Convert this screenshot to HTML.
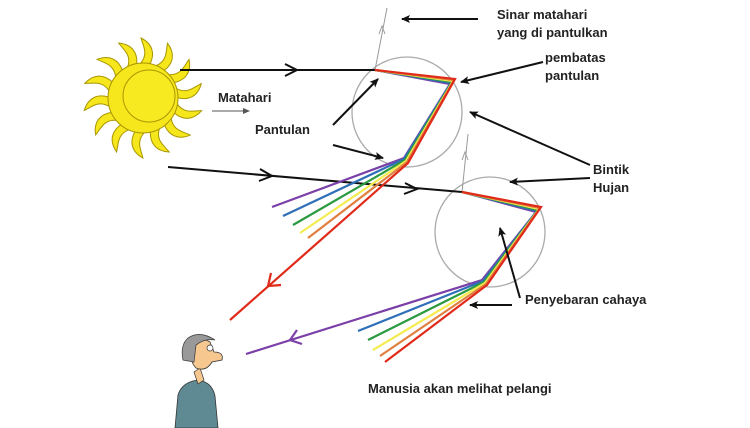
<!DOCTYPE html>
<html><head><meta charset="utf-8"><style>
html,body{margin:0;padding:0;background:#fff;}
svg{display:block}
text{font-family:"Liberation Sans",sans-serif;font-weight:bold;font-size:13px;fill:#222}
</style></head><body>
<svg width="750" height="428" viewBox="0 0 750 428" xmlns="http://www.w3.org/2000/svg">
<defs>
<marker id="ah" markerWidth="10" markerHeight="10" refX="8" refY="5" orient="auto" markerUnits="userSpaceOnUse"><path d="M0,1 L9,5 L0,9 L2,5Z" fill="#111"/></marker>
<path id="ray" d="M-3,-34 C6,-44 0,-52 -2,-60 C10,-54 12,-44 7,-34Z" fill="#f6e61c" stroke="#a89600" stroke-width="1"/>
</defs>
<!-- sun -->
<g transform="translate(143,98)">
<use href="#ray" transform="rotate(0)"/><use href="#ray" transform="rotate(26)"/><use href="#ray" transform="rotate(52)"/><use href="#ray" transform="rotate(78)"/><use href="#ray" transform="rotate(104)"/><use href="#ray" transform="rotate(130)"/><use href="#ray" transform="rotate(156)"/><use href="#ray" transform="rotate(182)"/><use href="#ray" transform="rotate(208)"/><use href="#ray" transform="rotate(234)"/><use href="#ray" transform="rotate(260)"/><use href="#ray" transform="rotate(286)"/><use href="#ray" transform="rotate(312)"/><use href="#ray" transform="rotate(338)"/>
<circle r="35" fill="#f6e61c" stroke="#a89600" stroke-width="1"/>
<circle cx="6" cy="-2" r="26" fill="#f8ea20" stroke="#a89600" stroke-width="1"/>
</g>
<!-- circles -->
<circle cx="407" cy="112" r="55" fill="none" stroke="#aaa" stroke-width="1.3"/>
<circle cx="490" cy="232" r="55" fill="none" stroke="#aaa" stroke-width="1.3"/>
<!-- grey reflected lines -->
<line x1="375" y1="70" x2="387" y2="8" stroke="#999" stroke-width="1"/>
<path d="M379,34 L382,26 L385,34" fill="none" stroke="#999"/>
<line x1="462" y1="192" x2="468" y2="134" stroke="#999" stroke-width="1"/>
<path d="M462,160 L465,152 L468,160" fill="none" stroke="#999"/>
<!-- incoming rays -->
<line x1="180" y1="70" x2="375" y2="70" stroke="#111" stroke-width="2"/>
<path d="M285,64 L297,70 L285,76" fill="none" stroke="#111" stroke-width="2"/>
<line x1="168" y1="167" x2="462" y2="192" stroke="#111" stroke-width="2"/>
<path d="M260,169 L272,176 L259,181" fill="none" stroke="#111" stroke-width="2"/>
<path d="M405,183 L417,189 L404,194" fill="none" stroke="#111" stroke-width="2"/>
<!-- drop 1 rainbow -->
<g fill="none" stroke-width="2.2">
<polyline points="375,70 450,84 404,158 272,207" stroke="#7b3fa8"/>
<polyline points="375,70 451,83 404,159 283,216" stroke="#2f6fb8"/>
<polyline points="375,70 452,82 405,160 293,225" stroke="#2a9a40"/>
<polyline points="375,70 453,81 406,161 300,233" stroke="#f4ec50"/>
<polyline points="375,70 454,80 407,162 308,238" stroke="#e08040"/>
<polyline points="375,70 455,79 408,163 230,320" stroke="#e02a1a"/>
<path d="M271,273 L268,286 L281,285" stroke="#e02a1a"/>
</g>
<!-- drop 2 rainbow -->
<g fill="none" stroke-width="2.2">
<polyline points="462,192 536,212 482,280 246,354" stroke="#7b3fa8"/>
<polyline points="462,192 537,211 483,281 358,331" stroke="#2f6fb8"/>
<polyline points="462,192 538,210 484,282 368,340" stroke="#2a9a40"/>
<polyline points="462,192 539,209 485,283 373,350" stroke="#f4ec50"/>
<polyline points="462,192 540,208 486,284 380,356" stroke="#e08040"/>
<polyline points="462,192 541,207 487,285 385,362" stroke="#e02a1a"/>
<path d="M297,330 L290,340 L302,344" stroke="#7b3fa8"/>
</g>
<!-- label arrows -->
<g stroke="#111" stroke-width="2" marker-end="url(#ah)">
<line x1="478" y1="19" x2="402" y2="19"/>
<line x1="543" y1="62" x2="461" y2="82"/>
<line x1="333" y1="125" x2="378" y2="79"/>
<line x1="333" y1="145" x2="383" y2="158"/>
<line x1="590" y1="165" x2="470" y2="112"/>
<line x1="590" y1="178" x2="510" y2="182"/>
<line x1="520" y1="298" x2="500" y2="228"/>
<line x1="512" y1="305" x2="470" y2="305"/>
</g>
<line x1="212" y1="111" x2="248" y2="111" stroke="#555" stroke-width="1"/>
<path d="M243,108 L250,111 L243,114Z" fill="#555"/>
<!-- labels -->
<text x="497" y="19">Sinar matahari</text>
<text x="497" y="37">yang di pantulkan</text>
<text x="545" y="62">pembatas</text>
<text x="545" y="80">pantulan</text>
<text x="218" y="102">Matahari</text>
<text x="255" y="134">Pantulan</text>
<text x="593" y="174">Bintik</text>
<text x="593" y="192">Hujan</text>
<text x="525" y="304">Penyebaran  cahaya</text>
<text x="368" y="393">Manusia akan melihat pelangi</text>
<!-- person -->
<g>
<path d="M175,428 L178,395 Q182,382 198,380 Q212,382 215,396 L218,428Z" fill="#5f8a94" stroke="#333" stroke-width="0.8"/>
<path d="M194,372 L198,384 L204,380 L200,368Z" fill="#f6c890" stroke="#333" stroke-width="0.7"/>
<path d="M192,343 Q200,336 210,342 L214,352 Q224,352 222,360 L212,362 Q206,372 196,368 Q188,360 192,343Z" fill="#f6c890" stroke="#333" stroke-width="0.8"/>
<path d="M183,360 Q180,345 188,338 Q200,330 215,340 Q205,338 196,345 L194,362Z" fill="#999" stroke="#444" stroke-width="0.8"/>
<circle cx="210" cy="348" r="3" fill="#fff" stroke="#333" stroke-width="0.7"/>
</g>
</svg>
</body></html>
